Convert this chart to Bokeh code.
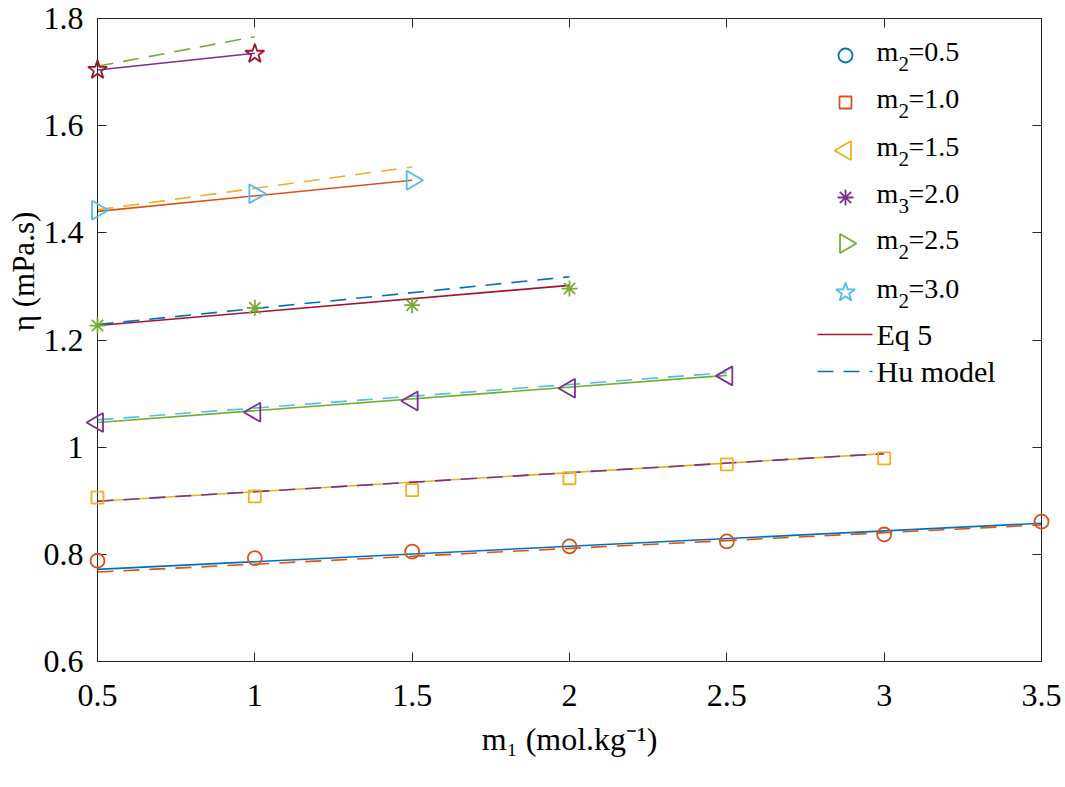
import math
from bokeh.plotting import figure
from bokeh.models import LinearAxis, Range1d, FixedTicker
from bokeh.core.properties import value
from bokeh.embed import file_html
from bokeh.resources import INLINE

# ---------------- data ----------------
x_05 = [0.5, 1.0, 1.5, 2.0, 2.5, 3.0, 3.5]
eta_05 = [0.788, 0.793, 0.805, 0.815, 0.824, 0.837, 0.861]
lx_05 = [0.5, 3.5]
eq5_05 = [0.772, 0.858]
hu_05 = [0.767, 0.855]

x_10 = [0.5, 1.0, 1.5, 2.0, 2.5, 3.0]
eta_10 = [0.906, 0.908, 0.920, 0.942, 0.968, 0.979]
lx_10 = [0.5, 3.0]
eq5_10 = [0.899, 0.988]
hu_10 = [0.899, 0.988]

x_15 = [0.5, 1.0, 1.5, 2.0, 2.5]
eta_15 = [1.046, 1.065, 1.086, 1.110, 1.133]
lx_15 = [0.5, 2.5]
eq5_15 = [1.046, 1.134]
hu_15 = [1.051, 1.139]

x_20 = [0.5, 1.0, 1.5, 2.0]
eta_20 = [1.227, 1.260, 1.265, 1.296]
lx_20 = [0.5, 2.0]
eq5_20 = [1.227, 1.302]
hu_20 = [1.229, 1.318]

x_25 = [0.5, 1.0, 1.5]
eta_25 = [1.442, 1.473, 1.498]
lx_25 = [0.5, 1.5]
eq5_25 = [1.440, 1.498]
hu_25 = [1.443, 1.523]

x_30 = [0.5, 1.0]
eta_30 = [1.704, 1.734]
lx_30 = [0.5, 1.0]
eq5_30 = [1.704, 1.735]
hu_30 = [1.711, 1.766]

# legend texts: series labels are "m" + subscript + value
legend_main = ["m", "m", "m", "m", "m", "m"]
legend_sub = ["2", "2", "2", "3", "2", "2"]
legend_val = ["=0.5", "=1.0", "=1.5", "=2.0", "=2.5", "=3.0"]
legend_line_labels = ["Eq 5", "Hu model"]
x_label = "m\u2081 (mol.kg\u207b\u00b9)"
y_label = "\u03b7 (mPa.s)"
x_ticks = [0.5, 1.0, 1.5, 2.0, 2.5, 3.0, 3.5]
x_tick_labels = ["0.5", "1", "1.5", "2", "2.5", "3", "3.5"]
y_ticks = [0.6, 0.8, 1.0, 1.2, 1.4, 1.6, 1.8]
y_tick_labels = ["0.6", "0.8", "1", "1.2", "1.4", "1.6", "1.8"]

# MATLAB default colours
BLUE = "#0072BD"; ORANGE = "#D95319"; YELLOW = "#EDB120"; PURPLE = "#7E2F8E"
GREEN = "#77AC30"; LBLUE = "#4DBEEE"; DRED = "#A2142F"

FONT = "Liberation Serif"
AX = "#262626"

XR = (0.5, 3.5)
YR = (0.6, 1.8)
FRAME = dict(left=97, right=1041, top=18, bottom=661)

p = figure(width=1065, height=787, output_backend="svg", toolbar_location=None,
           x_range=Range1d(*XR), y_range=Range1d(*YR),
           min_border_left=FRAME["left"], min_border_right=1065 - FRAME["right"],
           min_border_top=FRAME["top"], min_border_bottom=787 - FRAME["bottom"],
           x_axis_location=None, y_axis_location=None)
p.xgrid.visible = False
p.ygrid.visible = False
p.outline_line_color = AX
p.outline_line_width = 1
p.background_fill_color = "white"
p.border_fill_color = "white"

def style_axis(ax, ticks, labels, show_labels=True):
    ax.ticker = FixedTicker(ticks=ticks)
    ax.major_label_overrides = {t: l for t, l in zip(ticks, labels)}
    ax.major_tick_in = 9
    ax.major_tick_out = 0
    ax.minor_tick_line_color = None
    ax.axis_line_color = AX
    ax.major_tick_line_color = AX
    ax.major_label_text_font = FONT
    ax.major_label_text_font_size = "32px"
    ax.major_label_text_color = "black"
    ax.axis_label_text_font = FONT
    ax.axis_label_text_font_size = "32px"
    ax.axis_label_text_font_style = "normal"
    ax.axis_label_text_color = "black"
    if not show_labels:
        ax.major_label_text_font_size = "0px"
        ax.major_label_text_color = None

xb = LinearAxis(axis_label=x_label)
style_axis(xb, x_ticks, x_tick_labels)
xb.major_label_standoff = 23
xb.axis_label_standoff = 12
yl = LinearAxis()
style_axis(yl, y_ticks, y_tick_labels)
yl.major_label_standoff = 14
xt = LinearAxis()
style_axis(xt, x_ticks, x_tick_labels, show_labels=False)
yr = LinearAxis()
style_axis(yr, y_ticks, y_tick_labels, show_labels=False)
p.add_layout(xb, "below")
p.add_layout(yl, "left")
p.add_layout(xt, "above")
p.add_layout(yr, "right")

LW_M = 1.8
LW_L = 1.6
DASH = "16 10"

mk = [
    p.scatter(x_05, eta_05, marker="circle", size=14, fill_color=None, line_color=ORANGE, line_width=LW_M),
    p.scatter(x_10, eta_10, marker="square", size=12, fill_color=None, line_color=YELLOW, line_width=LW_M),
    p.scatter(x_15, eta_15, marker="triangle", size=19, angle=math.pi / 2, fill_color=None, line_color=PURPLE, line_width=LW_M),
    p.scatter(x_20, eta_20, marker="asterisk", size=16, line_color=GREEN, line_width=LW_M),
    p.scatter(x_25, eta_25, marker="triangle", size=19, angle=-math.pi / 2, fill_color=None, line_color=LBLUE, line_width=LW_M),
    p.scatter(x_30, eta_30, marker="star", size=20, fill_color=None, line_color=DRED, line_width=LW_M),
]

# Eq 5 lines
p.line(lx_05, eq5_05, line_color=BLUE, line_width=LW_L)
p.line(lx_10, eq5_10, line_color=YELLOW, line_width=LW_L)
p.line(lx_15, eq5_15, line_color=GREEN, line_width=LW_L)
p.line(lx_20, eq5_20, line_color=DRED, line_width=LW_L)
p.line(lx_25, eq5_25, line_color=ORANGE, line_width=LW_L)
p.line(lx_30, eq5_30, line_color=PURPLE, line_width=LW_L)

# Hu model lines
p.line(lx_05, hu_05, line_color=ORANGE, line_width=LW_L, line_dash=DASH)
p.line(lx_10, hu_10, line_color=PURPLE, line_width=LW_L, line_dash=DASH)
p.line(lx_15, hu_15, line_color=LBLUE, line_width=LW_L, line_dash=DASH)
p.line(lx_20, hu_20, line_color=BLUE, line_width=LW_L, line_dash=DASH)
p.line(lx_25, hu_25, line_color=YELLOW, line_width=LW_L, line_dash=DASH)
p.line(lx_30, hu_30, line_color=GREEN, line_width=LW_L, line_dash=DASH)

for r in mk:
    r.level = "overlay"

# ---------------- screen-pixel helpers for decorations ----------------
def px_to_x(px):
    return XR[0] + (px - FRAME["left"]) * (XR[1] - XR[0]) / (FRAME["right"] - FRAME["left"])

def px_to_y(py):
    return YR[1] - (py - FRAME["top"]) * (YR[1] - YR[0]) / (FRAME["bottom"] - FRAME["top"])

# y-axis title (placed like the original, above the axis centre)
YLAB_X, YLAB_Y = 23, 271
ylab = p.text(x=[px_to_x(YLAB_X)], y=[px_to_y(YLAB_Y)], text=[y_label], angle=math.pi / 2,
              text_font=value(FONT), text_font_size="31px", text_color="black",
              text_align="center", text_baseline="middle")
ylab.level = "overlay"

# ---------------- legend (drawn by hand, laid out in screen pixels) ----------------
LEG_KEY_X = 845
LEG_TEXT_X = 876
LEG_SUB_X = 898
LEG_VAL_X = 908
LEG_LINE_X0, LEG_LINE_X1 = 817, 872
LEG_ROW_Y = [55, 102, 150, 197, 243, 292]
LEG_LINE_ROW_Y = [334, 371]
LEG_BASE_DY = -4
LEG_SUB_DY = 8
LEG_LINE_BASE_DY = 0

leg_markers = [
    dict(marker="circle", size=14, angle=0.0, color=BLUE),
    dict(marker="square", size=12, angle=0.0, color=ORANGE),
    dict(marker="triangle", size=19, angle=math.pi / 2, color=YELLOW),
    dict(marker="asterisk", size=16, angle=0.0, color=PURPLE),
    dict(marker="triangle", size=19, angle=-math.pi / 2, color=GREEN),
    dict(marker="star", size=20, angle=0.0, color=LBLUE),
]
for row, m in enumerate(leg_markers):
    r = p.scatter([px_to_x(LEG_KEY_X)], [px_to_y(LEG_ROW_Y[row])], marker=m["marker"], size=m["size"],
                  angle=m["angle"], fill_color=None, line_color=m["color"], line_width=LW_M)
    r.level = "overlay"
p.line([px_to_x(LEG_LINE_X0), px_to_x(LEG_LINE_X1)], [px_to_y(LEG_LINE_ROW_Y[0])] * 2,
       line_color=DRED, line_width=LW_L)
p.line([px_to_x(LEG_LINE_X0), px_to_x(LEG_LINE_X1)], [px_to_y(LEG_LINE_ROW_Y[1])] * 2,
       line_color=BLUE, line_width=LW_L, line_dash=DASH)

n = len(legend_main)
p.text(x=[px_to_x(LEG_TEXT_X)] * n, y=[px_to_y(yy + LEG_BASE_DY) for yy in LEG_ROW_Y],
       text=legend_main, text_font=value(FONT), text_font_size="28px",
       text_color="black", text_baseline="middle", text_align="left")
p.text(x=[px_to_x(LEG_SUB_X)] * n, y=[px_to_y(yy + LEG_SUB_DY) for yy in LEG_ROW_Y],
       text=legend_sub, text_font=value(FONT), text_font_size="21px",
       text_color="black", text_baseline="middle", text_align="left")
p.text(x=[px_to_x(LEG_VAL_X)] * n, y=[px_to_y(yy + LEG_BASE_DY) for yy in LEG_ROW_Y],
       text=legend_val, text_font=value(FONT), text_font_size="28px",
       text_color="black", text_baseline="middle", text_align="left")
p.text(x=[px_to_x(LEG_TEXT_X)] * 2, y=[px_to_y(yy + LEG_LINE_BASE_DY) for yy in LEG_LINE_ROW_Y],
       text=legend_line_labels, text_font=value(FONT), text_font_size="30px",
       text_color="black", text_baseline="middle", text_align="left")

open("out.html", "w").write(file_html(p, INLINE))
